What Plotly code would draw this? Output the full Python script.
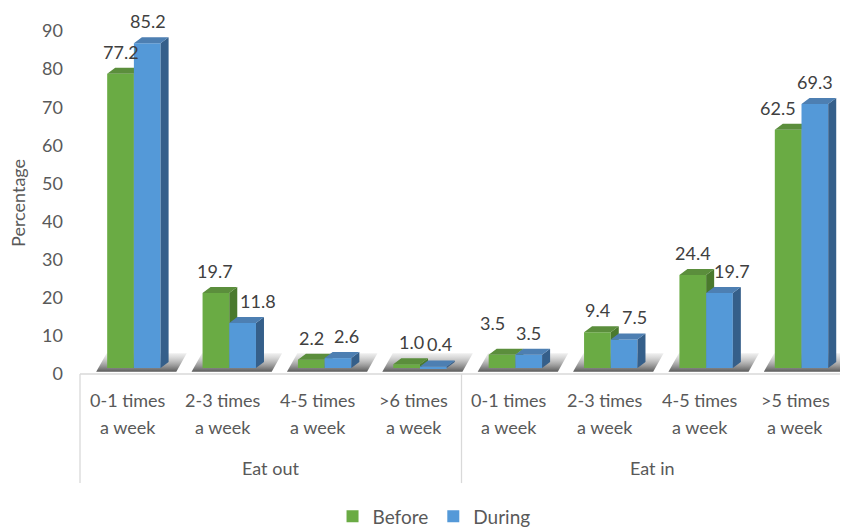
import plotly.graph_objects as go

# ---------------- data ----------------
line1_labels = ["0-1 times", "2-3 times", "4-5 times", ">6 times",
                "0-1 times", "2-3 times", "4-5 times", ">5 times"]
line2_labels = ["a week"] * 8
groups = ["Eat out", "Eat in"]
before = [77.2, 19.7, 2.2, 1.0, 3.5, 9.4, 24.4, 62.5]
during = [85.2, 11.8, 2.6, 0.4, 3.5, 7.5, 19.7, 69.3]
y_ticks = [0, 10, 20, 30, 40, 50, 60, 70, 80, 90]

# ---------------- style ----------------
FONT = "Lato"
TXT = "#595959"
LBL = "#404040"
W = 0.28                 # bar front width (x units)
DX = 0.084               # depth, x units
DY = 1.57                # depth, y units
BAR_RANGE = [-1.57, 88.43]
series = [
    dict(name="Before", vals=before, off=-0.075, axis="y2",
         front="#6aab44", top="#5b8e3c", side="#4a792d"),
    dict(name="During", vals=during, off=0.205, axis="y3",
         front="#5499d8", top="#4d7fb2", side="#355f8a"),
]
# label nudges in px (dx, dy) – mimic Excel's overlap avoidance
nudge = {
    "Before": [(0, 0), (-1, 0), (0, 0), (5, 0), (-10, 10), (0, 0), (0, 0), (-10, 0)],
    "During": [(1, 0), (15, 0), (9, 0), (6, 0), (0, 0), (10, 0), (13, 0), (0, 0)],
}

n = len(before)
xs = list(range(n))
fig = go.Figure()

# floor shadows (base subplot)
for i in xs:
    c = i + 0.11
    x0, x1 = c - 0.44, c + 0.40
    fig.add_trace(go.Scatter(
        x=[x0, x1, x1 + DX * 1.3, x0 + DX * 1.3, x0],
        y=[-1.0, -1.0, 3.9, 3.9, -1.0],
        yaxis="y", mode="lines", line=dict(width=0), fill="toself",
        fillcolor="rgba(120,120,120,0.6)",
        fillgradient=dict(type="vertical", start=-1.0, stop=3.9,
                          colorscale=[[0, "rgba(80,80,80,0.95)"], [1, "rgba(225,225,225,0.5)"]]),
        showlegend=False, hoverinfo="skip"))

for s in series:
    sx, sy, tx, ty = [], [], [], []
    for i, v in zip(xs, s["vals"]):
        l = i + s["off"] - W / 2
        r = i + s["off"] + W / 2
        sx += [r, r + DX, r + DX, r, r, None]
        sy += [0, DY, v + DY, v, 0, None]
        tx += [l, l + DX, r + DX, r, l, None]
        ty += [v, v + DY, v + DY, v, v, None]
    fig.add_trace(go.Bar(x=[i + s["off"] for i in xs], y=s["vals"], width=W, yaxis=s["axis"],
                         name=s["name"], marker=dict(color=s["front"], line=dict(width=0))))
    fig.add_trace(go.Scatter(x=sx, y=sy, yaxis=s["axis"], mode="lines", line=dict(width=0),
                             fill="toself", fillcolor=s["side"], showlegend=False, hoverinfo="skip"))
    fig.add_trace(go.Scatter(x=tx, y=ty, yaxis=s["axis"], mode="lines", line=dict(width=0),
                             fill="toself", fillcolor=s["top"], showlegend=False, hoverinfo="skip"))
    for i, v in zip(xs, s["vals"]):
        ndx, ndy = nudge[s["name"]][i]
        fig.add_annotation(x=i + s["off"], y=v, xref="x", yref=s["axis"], text=f"{v:.1f}",
                           showarrow=False, yanchor="middle", xshift=ndx, yshift=22 + ndy,
                           font=dict(family=FONT, size=18, color=LBL))

# value-axis carrier (no marks)
fig.add_trace(go.Scatter(x=[None], y=[None], yaxis="y4", mode="markers",
                         showlegend=False, hoverinfo="skip"))

# category labels
for i in xs:
    fig.add_annotation(x=i, y=-0.0758, xref="x", yref="paper", text=line1_labels[i],
                       showarrow=False, yanchor="middle", font=dict(family=FONT, size=18, color=TXT))
    fig.add_annotation(x=i, y=-0.1545, xref="x", yref="paper", text=line2_labels[i],
                       showarrow=False, yanchor="middle", font=dict(family=FONT, size=18, color=TXT))
for g, gx in zip(groups, [1.5, 5.5]):
    fig.add_annotation(x=gx, y=-0.274, xref="x", yref="paper", text=g,
                       showarrow=False, yanchor="middle", font=dict(family=FONT, size=18, color=TXT))

fig.add_annotation(x=-0.082, y=0.5, xref="paper", yref="paper", text="Percentage",
                   textangle=-90, showarrow=False, xanchor="center", yanchor="middle",
                   font=dict(family=FONT, size=18, color=TXT))

# category box lines
box = dict(type="line", xref="paper", yref="paper", line=dict(color="#d9d9d9", width=1.3))
fig.add_shape(x0=0, x1=1, y0=0, y1=0, **box)
for bx in [0, 0.5, 1]:
    fig.add_shape(x0=bx, x1=bx, y0=0, y1=-0.318, **box)

hidden = dict(range=BAR_RANGE, visible=False, showgrid=False, zeroline=False)
fig.update_layout(
    width=840, height=519,
    margin=dict(l=72, r=5, t=23, b=153, autoexpand=False),
    paper_bgcolor="white", plot_bgcolor="white",
    font=dict(family=FONT, color=TXT),
    barmode="overlay",
    xaxis=dict(range=[-0.5, 7.5], showticklabels=False, showgrid=False,
               zeroline=False, showline=False, ticks=""),
    yaxis=hidden,
    yaxis2=dict(overlaying="y", **hidden),
    yaxis3=dict(overlaying="y", **hidden),
    yaxis4=dict(overlaying="y", range=[0, 90], tickvals=y_ticks, showgrid=False,
                zeroline=False, showline=False, ticks="", ticklabelstandoff=16,
                tickfont=dict(family=FONT, size=18, color=TXT)),
    legend=dict(orientation="h", x=0.464, xanchor="center", y=-0.415, yanchor="middle",
                font=dict(family=FONT, size=19, color=TXT), traceorder="normal"),
    showlegend=True,
)

fig.write_html("out.html")
